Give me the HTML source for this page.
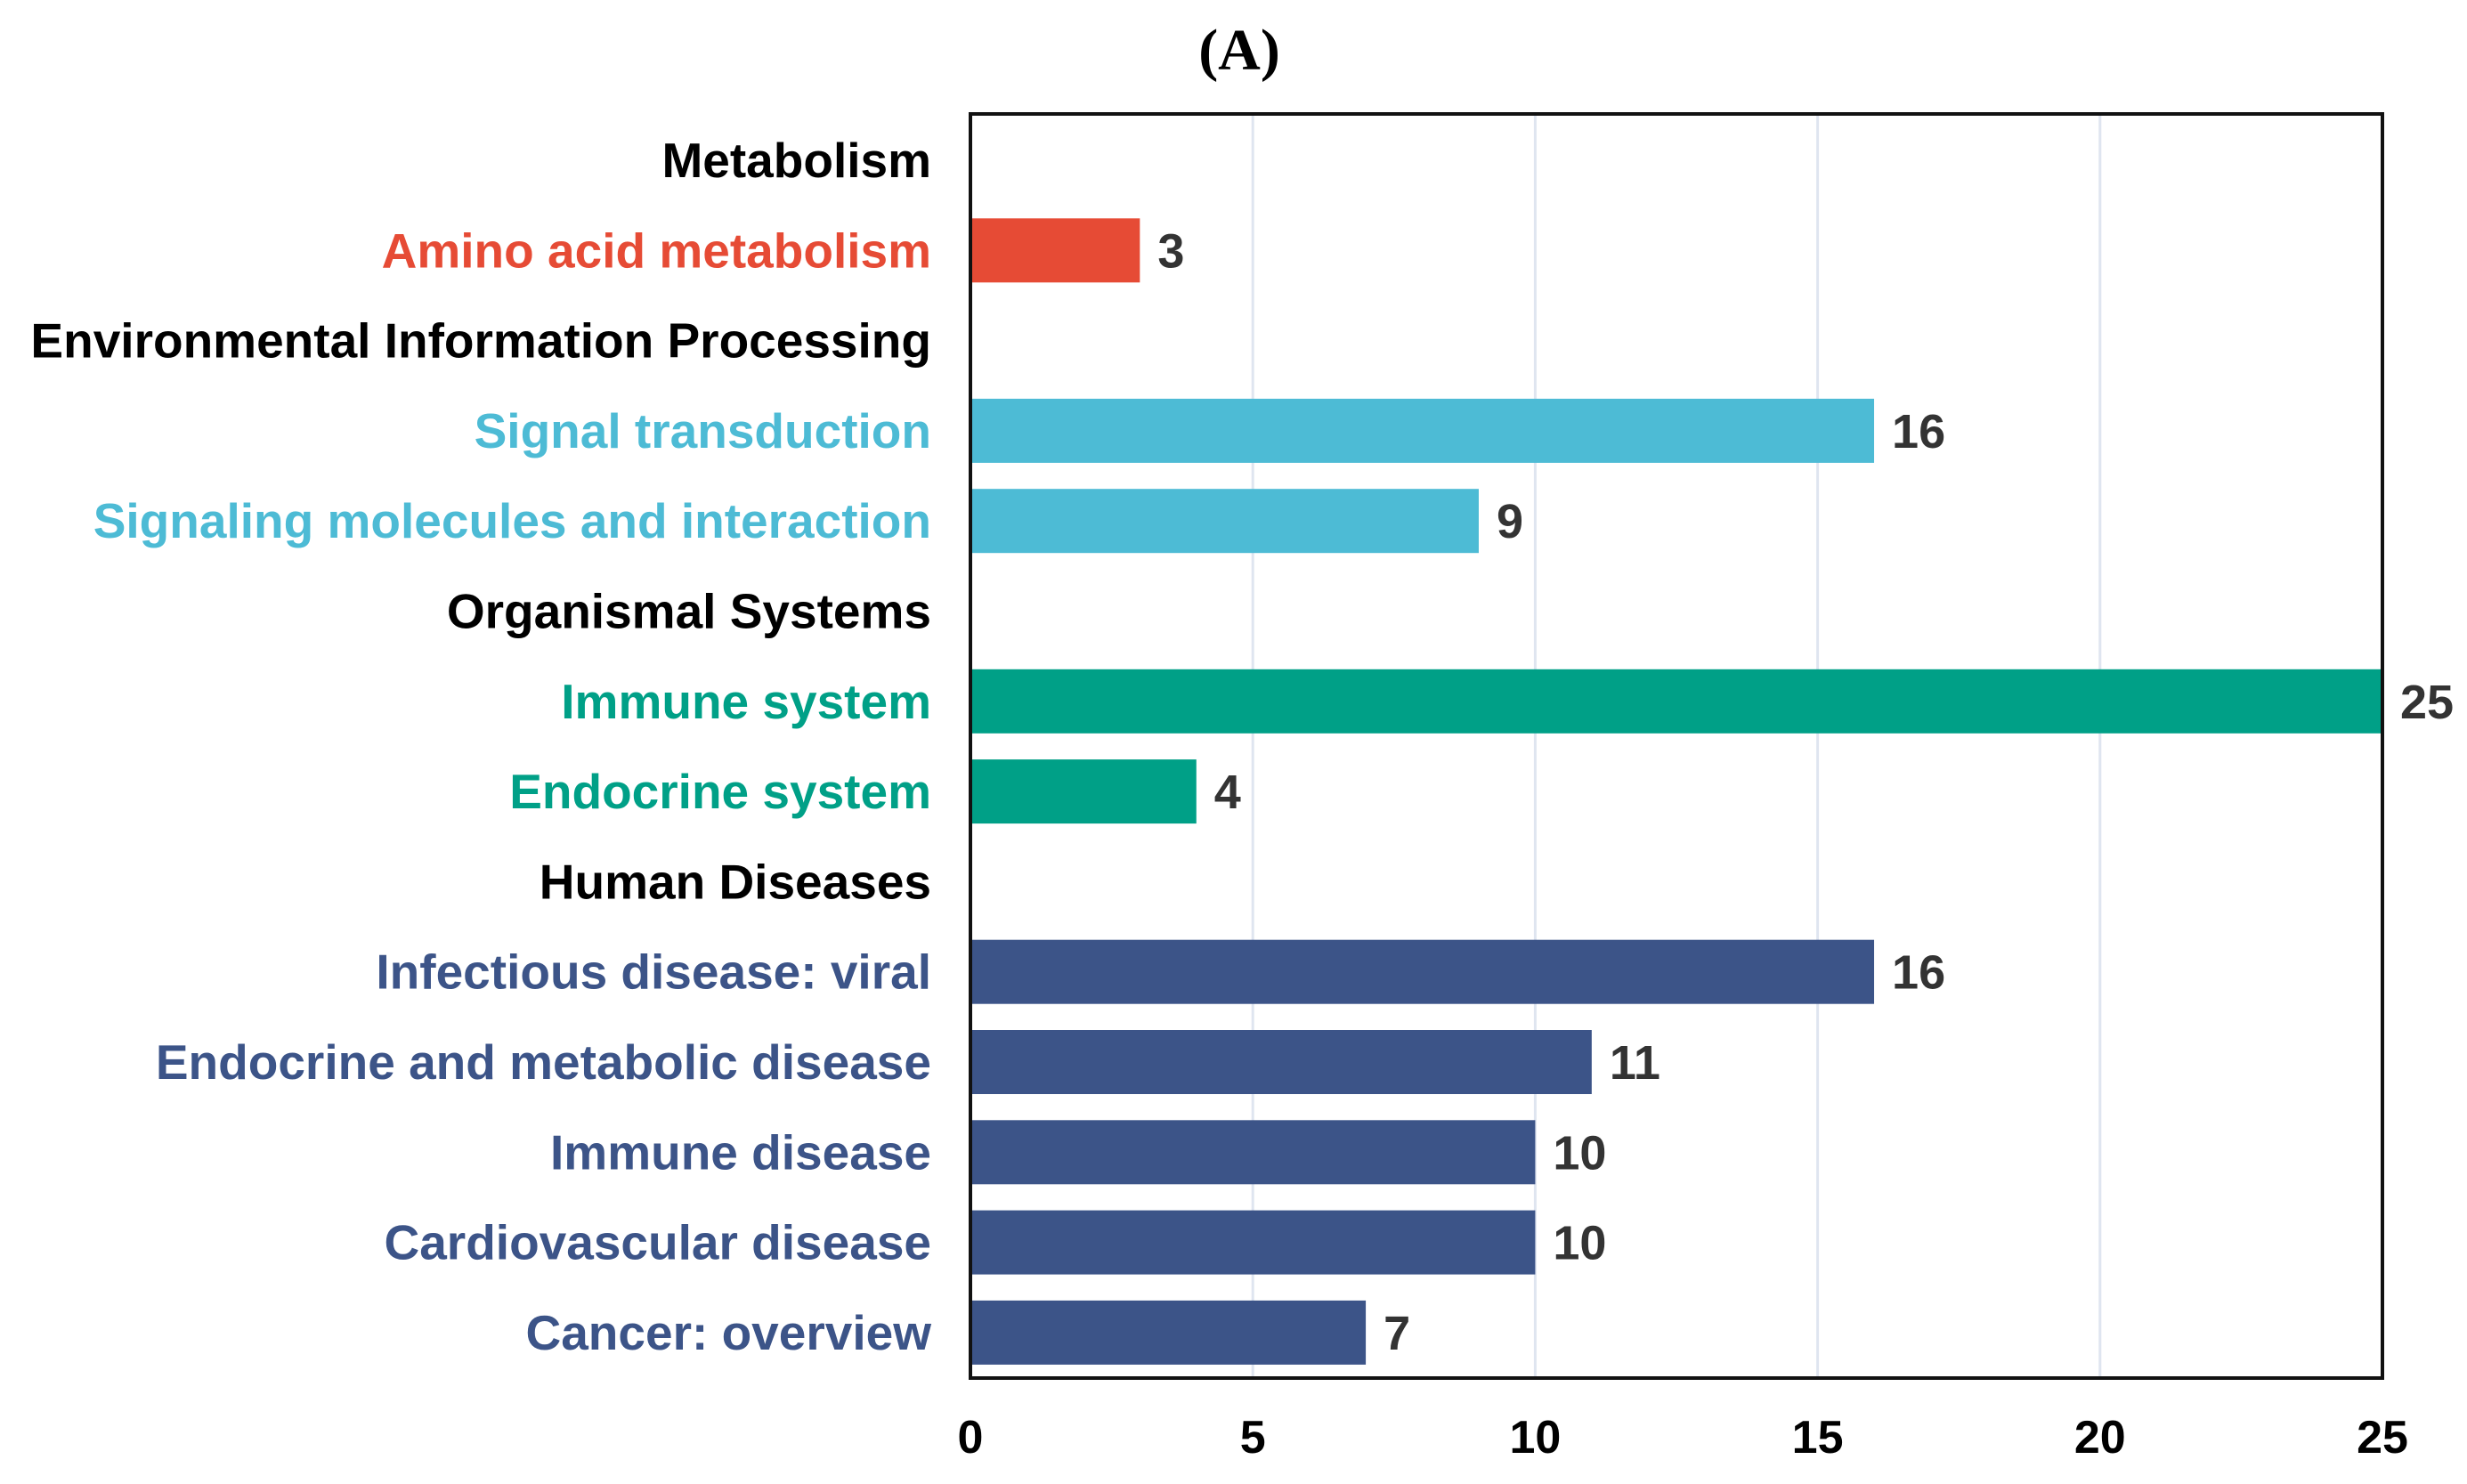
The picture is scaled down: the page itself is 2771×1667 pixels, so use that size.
<!DOCTYPE html>
<html><head><meta charset="utf-8"><style>
html,body{margin:0;padding:0;background:#fff;}
svg{display:block;font-family:"Liberation Sans",Arial,sans-serif;}
</style></head><body>
<svg id="chart" width="2771" height="1667" viewBox="0 0 2771 1667" xmlns="http://www.w3.org/2000/svg">
<text x="1392" y="78" text-anchor="middle" font-family="Liberation Serif, serif" font-weight="bold" font-size="66">(A)</text>
<g id="grid"></g>
<g id="bars"></g>
<g id="labels"></g>
<g id="ticks"></g>
<rect x="1090" y="128" width="1586" height="1420" fill="none" stroke="#111" stroke-width="4"/>
</svg>
<script>
const categories=["Metabolism","Amino acid metabolism","Environmental Information Processing","Signal transduction","Signaling molecules and interaction","Organismal Systems","Immune system","Endocrine system","Human Diseases","Infectious disease: viral","Endocrine and metabolic disease","Immune disease","Cardiovascular disease","Cancer: overview"];
const values=[null,3,null,16,9,null,25,4,null,16,11,10,10,7];
const groups=["header","metab","header","env","env","header","org","org","header","dis","dis","dis","dis","dis"];
const tickValues=[0,5,10,15,20,25];
const colors={header:"#000",metab:"#E64B35",env:"#4DBBD5",org:"#00A087",dis:"#3C5488"};
const NS="http://www.w3.org/2000/svg";
const x0=1090,x1=2676,xmax=25;
const xs=v=>x0+(v/xmax)*(x1-x0);
const y0=180,step=101.3,bh=72;
const ys=i=>y0+i*step;
function mk(t,a,p){const e=document.createElementNS(NS,t);for(const k in a)e.setAttribute(k,a[k]);p.appendChild(e);return e;}
const grid=document.getElementById('grid'),bars=document.getElementById('bars'),labels=document.getElementById('labels'),ticks=document.getElementById('ticks');
tickValues.forEach(v=>{
  if(v>0&&v<xmax){const l=mk('line',{x1:xs(v),x2:xs(v),y1:128,y2:1548,stroke:'#dfe5f0','stroke-width':3},grid);
  
  }
  const t=mk('text',{x:xs(v),y:1632,'text-anchor':'middle','font-size':52,'font-weight':'bold',fill:'#000'},ticks);
  t.textContent=v;
  
  
});
categories.forEach((c,i)=>{
  const y=ys(i),g=groups[i];
  const t=mk('text',{x:1046,y:y+19,'text-anchor':'end','font-size':55,'font-weight':'bold',fill:colors[g]},labels);
  t.textContent=c;
  
  
  if(values[i]!=null){
    const r=mk('rect',{x:x0,y:y-bh/2,width:xs(values[i])-x0,height:bh,fill:colors[g]},bars);
    
    
    const vt=mk('text',{x:xs(values[i])+20,y:y+19,'font-size':54,'font-weight':'bold',fill:'#333'},labels);
    vt.textContent=values[i];
    
    
  }
});
</script>
</body></html>
